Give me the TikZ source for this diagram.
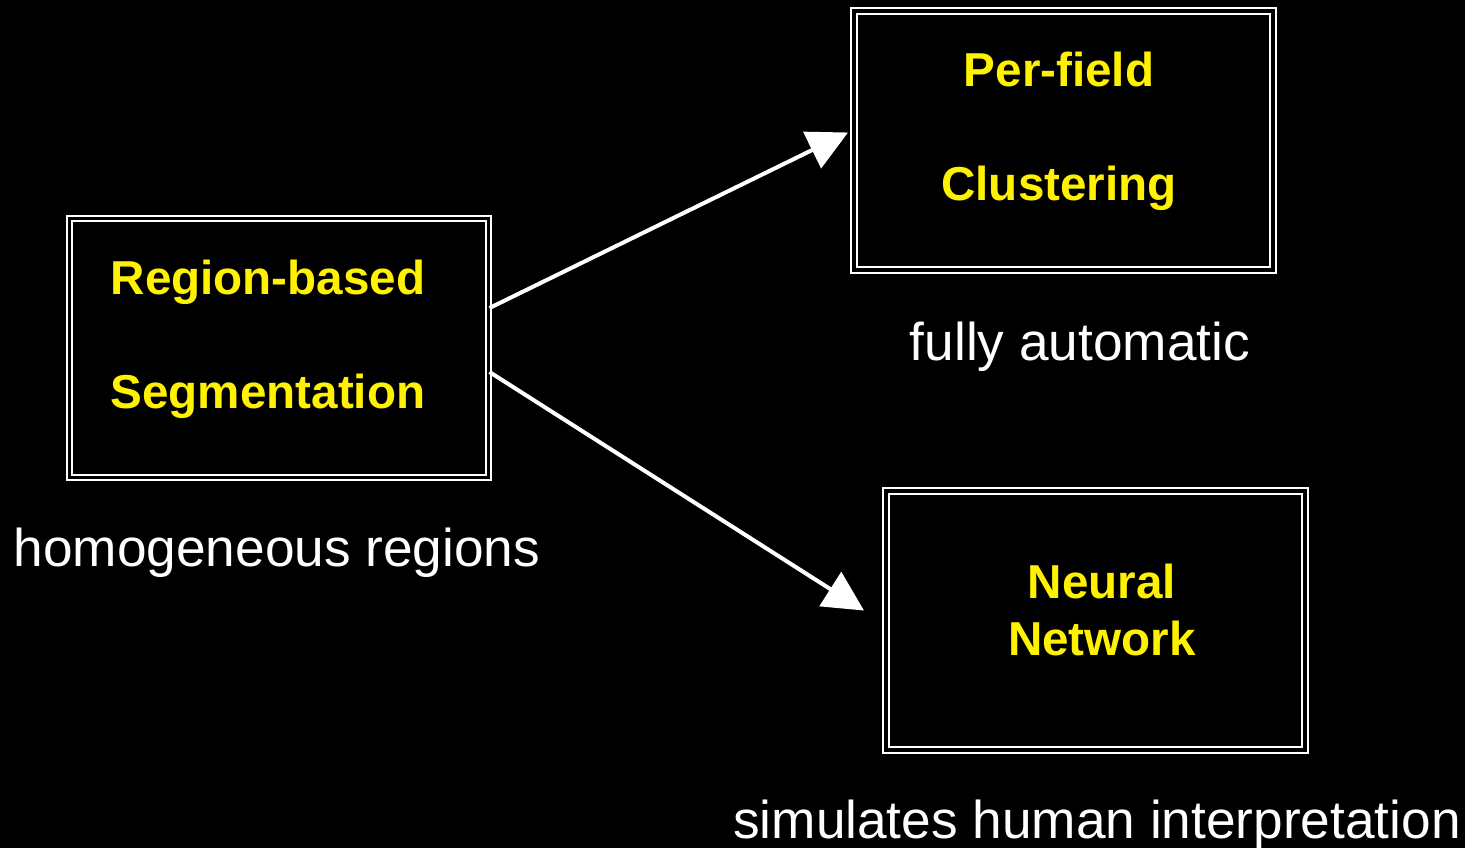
\documentclass[tikz,border=0pt]{standalone}
\usepackage{fontspec}
\setmainfont{Liberation Sans}
\usepackage{xcolor}
\usepackage{tikz}
\usetikzlibrary{calc}
\usetikzlibrary{positioning}
\usetikzlibrary{arrows.meta}
\tikzset{
	stagebox/.style={
		draw=white,
		double=black,
		line width=1pt,
		double distance=1.6pt,
		minimum width=209.5pt,
		minimum height=129.5pt,
		inner sep=0pt,
	},
	title/.style={
		text=yellow,
		font=\fontsize{23.8}{28.6}\selectfont\bfseries,
		align=center,
		inner sep=0pt,
	},
	note/.style={
		text=white,
		font=\fontsize{26.6}{32}\selectfont,
		inner sep=0pt,
	},
	flow/.style={
		white,
		line width=2pt,
		-{Triangle[length=20pt,width=20pt]},
	},
}

\begin{document}
\begin{tikzpicture}[x=0.5pt,y=-0.5pt]
			% Background
			\fill[black] (0,0) rectangle (1465,848);
			\useasboundingbox (0,0) rectangle (1465,848);
			
			% Boxes
			\node[stagebox] (seg) at (279,348) {};
			\node[stagebox] (clu) at (1063.5,140.5) {};
			\node[stagebox] (net) at (1095.5,620.5) {};
			
			% Box titles
			\node[title] (segtitle) at (268,339) {Region-based\\[28.4pt]Segmentation};
			\node[title] (clutitle) at (1059,131) {Per-field\\[28.4pt]Clustering};
			\node[title] (nettitle) at (1102,610) {Neural\\Network};
			
			% Notes below the boxes
			\node[note] (segnote) at (277,553) {homogeneous regions};
			\node[note] (clunote) at (1080,347) {fully automatic};
			\node[note] (netnote) at (1097,825) {simulates human interpretation};
			
			% Arrows from the segmentation box
			\coordinate (tocl) at ($(clu.west)+(-5,-8)$);
			\coordinate (tonet) at ($(net.west)+(-21,-10)$);
			\draw[flow] ($(seg.east)+(0,-40)$) -- (tocl);
			\draw[flow] ($(seg.east)+(0,24)$) -- (tonet);
		\end{tikzpicture}
\end{document}
